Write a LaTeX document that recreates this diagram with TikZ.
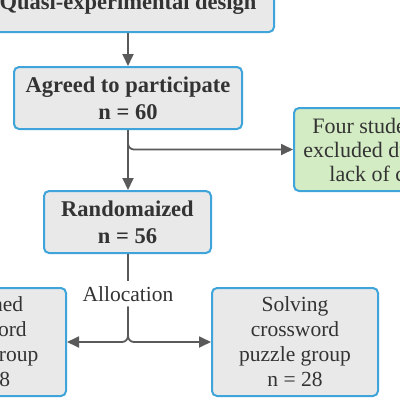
\documentclass[tikz,border=0pt]{standalone}
\usepackage{fontspec}
\setmainfont{Liberation Serif}
\usetikzlibrary{arrows.meta}
\definecolor{bordercol}{HTML}{3EA4DA}
\definecolor{boxgray}{HTML}{E9E9E9}
\definecolor{boxgreen}{HTML}{D4ECC4}
\definecolor{linecol}{HTML}{5A5A5A}
\definecolor{txt}{HTML}{333333}
\begin{document}
\begin{tikzpicture}[x=1pt,y=1pt,
  box/.style={draw=bordercol, fill=boxgray, line width=2pt, rounded corners=5pt,
    align=center, inner sep=0pt, text=txt},
  boldtxt/.style={font=\bfseries\fontsize{22.5}{27}\selectfont},
  regtxt/.style={font=\fontsize{21.5}{25}\selectfont},
  conn/.style={draw=linecol, line width=1.8pt},
  arr/.style={conn, -{Triangle[length=12pt,width=11pt]}}]
\useasboundingbox (0,-400) rectangle (400,0);
\clip (0,-400) rectangle (400,0);
\fill[white] (0,-400) rectangle (400,0);
\node[box, boldtxt, minimum width=292pt, minimum height=56pt] (top) at (128,-4) {Quasi-experimental design};
\node[box, boldtxt, minimum width=228pt, minimum height=62pt] (agreed) at (128,-98) {Agreed to participate\\n = 60};
\node[box, fill=boxgreen, minimum width=204pt, minimum height=83pt, font=\fontsize{22}{24}\selectfont] (green) at (396,-149.5) {Four students were\\excluded due to their\\lack of consent};
\node[box, boldtxt, minimum width=167pt, minimum height=62pt] (rand) at (127.5,-222) {Randomaized\\n = 56};
\node[regtxt, text=txt, inner sep=0pt, minimum height=25pt] (alloc) at (128,-294) {Allocation};
\node[box, regtxt, minimum width=166pt, minimum height=108pt] (right) at (295,-342) {Solving\\crossword\\puzzle group\\n = 28};
\node[box, regtxt, minimum width=167pt, minimum height=108pt] (left) at (-17.5,-342) {Designed\\crossword\\puzzle group\\n = 28};
\draw[arr] (top.south) -- (agreed.north);
\draw[arr] (agreed.south) -- (agreed.south |- rand.north);
\draw[arr, rounded corners=6pt] (agreed.south) |- (green.west);
\draw[conn] (alloc.north |- rand.south) -- (alloc.north);
\draw[arr, rounded corners=6pt] (alloc.south) |- (left.east);
\draw[arr, rounded corners=6pt] (alloc.south) |- (right.west);
\end{tikzpicture}
\end{document}
